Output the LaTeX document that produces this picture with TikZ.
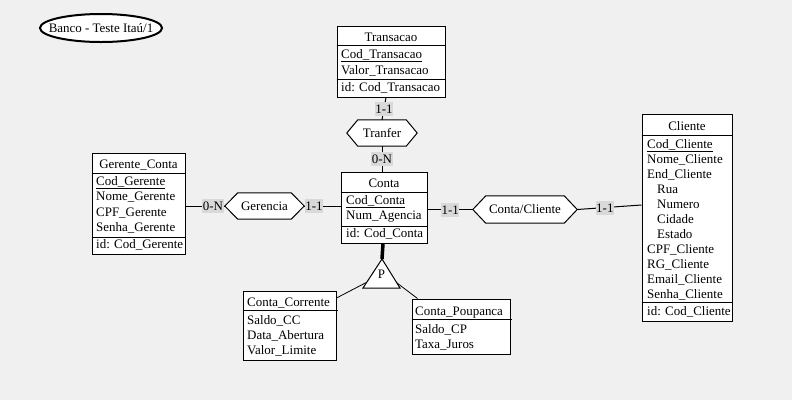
\documentclass[tikz,border=0pt]{standalone}
\usepackage{fontspec}
\setmainfont{Liberation Serif}
\usetikzlibrary{calc}
\pgfdeclarelayer{back}
\pgfdeclarelayer{mid}
\pgfsetlayers{back,mid,main}
\definecolor{bgc}{HTML}{F0F0F0}
\definecolor{lblc}{HTML}{D9D9D9}
\tikzset{
  every node/.style={font=\fontsize{13}{15}\selectfont, inner sep=0pt},
  entbox/.style={draw, fill=white, line width=1bp},
  sep/.style={line width=1bp},
  attr/.style={anchor=base west},
  ttl/.style={anchor=base},
  hexn/.style={draw=none},
  hexline/.style={draw, fill=white, line width=1bp},
  card/.style={fill=lblc, inner xsep=0.5bp, minimum height=14bp, text height=9bp, text depth=0bp},
  conn/.style={line width=1bp},
}
\begin{document}
\begin{tikzpicture}[x=1bp,y=-1bp]
\begin{pgfonlayer}{back}
\fill[bgc] (0,0) rectangle (792,400);
\end{pgfonlayer}
\useasboundingbox (0,0) rectangle (792,400);

% title
\node (title) at (101,28) {Banco - Teste Itaú/1};
\begin{pgfonlayer}{mid}
\draw[line width=2bp, fill=white] (title.center) ellipse [x radius=61bp, y radius=14bp];
\end{pgfonlayer}

% Transacao
\node[entbox, minimum width=108bp, minimum height=71bp] (trans) at (391,61.5) {};
\draw[sep] (trans.west |- 0,45) -- (trans.east |- 0,45);
\draw[sep] (trans.west |- 0,79) -- (trans.east |- 0,79);
\node[ttl] (transT) at (391,41.5) {Transacao};
\node[attr] (transA1) at (341,58.3) {\underline{Cod\_Transacao}};
\node[attr] (transA2) at (341,74) {Valor\_Transacao};
\node[attr] (transI) at (341,91.7) {id: Cod\_Transacao};

% Gerente_Conta
\node[entbox, minimum width=93bp, minimum height=101bp] (ger) at (138.5,203.5) {};
\draw[sep] (ger.west |- 0,173) -- (ger.east |- 0,173);
\draw[sep] (ger.west |- 0,237) -- (ger.east |- 0,237);
\node[ttl] (gerT) at (138.5,168) {Gerente\_Conta};
\node[attr] (gerA1) at (96,185.5) {\underline{Cod\_Gerente}};
\node[attr] (gerA2) at (96,200.5) {Nome\_Gerente};
\node[attr] (gerA3) at (96,216) {CPF\_Gerente};
\node[attr] (gerA4) at (96,231) {Senha\_Gerente};
\node[attr] (gerI) at (96,248.5) {id: Cod\_Gerente};

% Conta
\node[entbox, minimum width=86bp, minimum height=71bp] (conta) at (384,207.5) {};
\draw[sep] (conta.west |- 0,192) -- (conta.east |- 0,192);
\draw[sep] (conta.west |- 0,226) -- (conta.east |- 0,226);
\node[ttl] (contaT) at (384,187.3) {Conta};
\node[attr] (contaA1) at (346,204.3) {\underline{Cod\_Conta}};
\node[attr] (contaA2) at (346,219.5) {Num\_Agencia};
\node[attr] (contaI) at (346,237) {id: Cod\_Conta};

% Cliente
\node[entbox, minimum width=90bp, minimum height=207bp] (cli) at (687,217.5) {};
\draw[sep] (cli.west |- 0,135) -- (cli.east |- 0,135);
\draw[sep] (cli.west |- 0,302) -- (cli.east |- 0,302);
\node[ttl] (cliT) at (687,130) {Cliente};
\node[attr] (cliA1) at (647,148.3) {\underline{Cod\_Cliente}};
\node[attr] (cliA2) at (647,163.3) {Nome\_Cliente};
\node[attr] (cliA3) at (647,178.3) {End\_Cliente};
\node[attr] (cliA4) at (657,193.3) {Rua};
\node[attr] (cliA5) at (657,208.3) {Numero};
\node[attr] (cliA6) at (657,223.3) {Cidade};
\node[attr] (cliA7) at (657,238.3) {Estado};
\node[attr] (cliA8) at (647,253.3) {CPF\_Cliente};
\node[attr] (cliA9) at (647,268.3) {RG\_Cliente};
\node[attr] (cliA10) at (647,283.3) {Email\_Cliente};
\node[attr] (cliA11) at (647,298.3) {Senha\_Cliente};
\node[attr] (cliI) at (647,315.3) {id: Cod\_Cliente};

% Conta_Corrente
\node[entbox, minimum width=93bp, minimum height=69bp] (ccor) at (289.5,325.5) {};
\draw[sep] (ccor.west |- 0,310) -- ([xshift=1bp]ccor.east |- 0,310);
\node[attr] (ccorT) at (247,306) {Conta\_Corrente};
\node[attr] (ccorA1) at (247,324.3) {Saldo\_CC};
\node[attr] (ccorA2) at (247,339.3) {Data\_Abertura};
\node[attr] (ccorA3) at (247,354.3) {Valor\_Limite};

% Conta_Poupanca
\node[entbox, minimum width=98bp, minimum height=55bp] (cpou) at (461,326.5) {};
\draw[sep] (cpou.west |- 0,319) -- ([xshift=1bp]cpou.east |- 0,319);
\node[attr] (cpouT) at (415,315.3) {Conta\_Poupanca};
\node[attr] (cpouA1) at (415,333.3) {Saldo\_CP};
\node[attr] (cpouA2) at (415,348.3) {Taxa\_Juros};

% relationships
\node[hexn, minimum width=70bp, minimum height=26bp] (tranf) at (382,133) {Tranfer};
\node[hexn, minimum width=79bp, minimum height=26bp] (geren) at (264.5,206) {Gerencia};
\node[hexn, minimum width=104bp, minimum height=27bp] (ccli) at (525,209.5) {Conta/Cliente};
\begin{pgfonlayer}{mid}
\draw[hexline] (tranf.west) -- ([xshift=11bp]tranf.north west) -- ([xshift=-11bp]tranf.north east) -- (tranf.east) -- ([xshift=-11bp]tranf.south east) -- ([xshift=11bp]tranf.south west) -- cycle;
\draw[hexline] (geren.west) -- ([xshift=13bp]geren.north west) -- ([xshift=-13bp]geren.north east) -- (geren.east) -- ([xshift=-13bp]geren.south east) -- ([xshift=13bp]geren.south west) -- cycle;
\draw[hexline] (ccli.west) -- ([xshift=13bp]ccli.north west) -- ([xshift=-13bp]ccli.north east) -- (ccli.east) -- ([xshift=-13bp]ccli.south east) -- ([xshift=13bp]ccli.south west) -- cycle;
\end{pgfonlayer}

% connectors
\draw[conn] ([xshift=-5bp]trans.south) -- node[card] (c1) {1-1} (tranf.north);
\draw[conn] (tranf.south) -- node[card] (c2) {0-N} (tranf.south |- conta.north);
\draw[conn] (ger.east |- geren.west) -- node[card, pos=0.7] (c3) {0-N} (geren.west);
\draw[conn] (geren.east) -- node[card, pos=0.27] (c4) {1-1} (conta.west |- geren.east);
\draw[conn] (conta.east |- ccli.west) -- node[card, pos=0.5] (c5) {1-1} (ccli.west);
\draw[conn] (ccli.east) -- node[card, pos=0.43] (c6) {1-1} ([yshift=4.5bp]cli.west |- ccli.east);

% specialization triangle
\coordinate (tA) at (382,259);
\coordinate (tL) at (363,288);
\coordinate (tR) at (400,288);
\draw[line width=1bp, fill=white] (tA) -- (tL) -- (tR) -- cycle;
\node (pT) at (381.5,274) {P};
\draw[line width=3.5bp] ([xshift=-1bp]conta.south) -- (tA);
\draw[line width=0.8bp] ($(tA)!0.8!(tL)$) -- (ccor.east |- 0,298);
\draw[line width=0.8bp] ($(tA)!0.82!(tR)$) -- ([xshift=6bp]cpou.north west);
\end{tikzpicture}
\end{document}
